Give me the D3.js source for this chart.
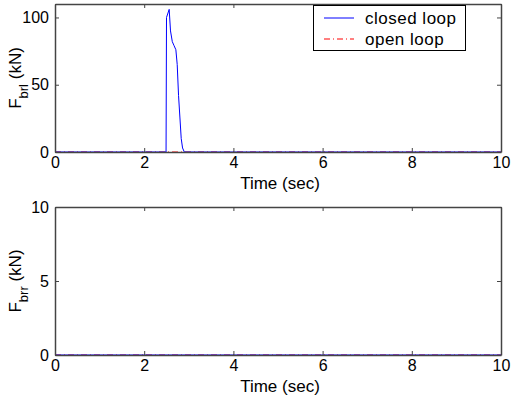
<!DOCTYPE html>
<html>
<head>
<meta charset="utf-8">
<script src="https://cdn.jsdelivr.net/npm/d3@7"></script>
<style>
  body { margin: 0; background: #fff; }
  svg { display: block; font-family: "Liberation Sans", Arial, sans-serif; }
</style>
</head>
<body>
<script>
// time axis (sec)
const xTicks = [0, 2, 4, 6, 8, 10]

// left brake force, closed loop
const closedT = [0, 2.49, 2.50, 2.56, 2.59, 2.63, 2.67, 2.71, 2.74, 2.77, 2.80, 2.83, 2.86, 2.90, 10]
const closedF = [0, 0, 100, 106, 90, 82, 79, 76, 65, 42, 26, 10, 3, 0, 0]
// left brake force, open loop
const openT = [0, 10]
const openF = [0, 0]

// right brake force (both zero)
const closedRT = [0, 10]
const closedRF = [0, 0]
const openRT = [0, 10]
const openRF = [0, 0]

const W = 514, H = 397
const svg = d3.select('body').append('svg').attr('width', W).attr('height', H)

function panel(opt) {
  const x = d3.scaleLinear().domain([0, 10]).range([55, 501])
  const y = d3.scaleLinear().domain(opt.yDomain).range([opt.bottom, opt.top])
  const g = svg.append('g')
  const axisColor = '#444'

  const line = d3.line().x(d => x(d[0])).y(d => y(d[1]))

  // open loop (red dash-dot) then closed loop (blue)
  g.append('path')
    .attr('d', line(d3.zip(opt.openT, opt.openF)))
    .attr('fill', 'none').attr('stroke', '#ff0000').attr('stroke-width', 1)
    .attr('stroke-dasharray', '6,3,1,3')
  g.append('path')
    .attr('d', line(d3.zip(opt.closedT, opt.closedF)))
    .attr('fill', 'none').attr('stroke', '#0000ff').attr('stroke-width', 1)

  // box with inward ticks on all four sides
  const axes = [
    d3.axisBottom(x).tickValues(xTicks).tickSizeInner(-4).tickSizeOuter(0).tickPadding(5),
    d3.axisTop(x).tickValues(xTicks).tickSizeInner(-4).tickSizeOuter(0).tickFormat(''),
    d3.axisLeft(y).tickValues(opt.yTicks).tickSizeInner(-4).tickSizeOuter(0).tickPadding(6),
    d3.axisRight(y).tickValues(opt.yTicks).tickSizeInner(-4).tickSizeOuter(0).tickFormat('')
  ]
  const trans = [
    `translate(0,${opt.bottom})`, `translate(0,${opt.top})`,
    'translate(55,0)', 'translate(501,0)'
  ]
  axes.forEach((a, i) => {
    const ag = g.append('g').attr('transform', trans[i]).call(a)
    ag.select('.domain').attr('stroke', axisColor).attr('stroke-width', 1.5)
    ag.selectAll('.tick line').attr('stroke', axisColor)
    ag.selectAll('.tick text').attr('fill', '#000').style('font-size', '16px')
  })

  g.append('text')
    .attr('x', 280).attr('y', opt.bottom + 37)
    .attr('text-anchor', 'middle')
    .style('font-size', '17px')
    .text('Time (sec)')

  const yl = g.append('text')
    .attr('transform', `translate(21,${(opt.top + opt.bottom) / 2}) rotate(-90)`)
    .attr('text-anchor', 'middle')
    .style('font-size', '17px')
  yl.append('tspan').text('F')
  yl.append('tspan').attr('dy', 7).style('font-size', '13px').text(opt.sub)
  yl.append('tspan').attr('dy', -7).text(' (kN)')
  return g
}

panel({
  top: 4, bottom: 152, yDomain: [0, 110], yTicks: [0, 50, 100], sub: 'brl',
  closedT, closedF, openT, openF
})
panel({
  top: 207, bottom: 355, yDomain: [0, 10], yTicks: [0, 5, 10], sub: 'brr',
  closedT: closedRT, closedF: closedRF, openT: openRT, openF: openRF
})

// legend
const leg = svg.append('g')
leg.append('rect')
  .attr('x', 313.5).attr('y', 5.5).attr('width', 152).attr('height', 45)
  .attr('fill', '#fff').attr('stroke', '#000')
const legendItems = [
  { label: 'closed loop', color: '#0000ff', dash: null, y: 18 },
  { label: 'open loop', color: '#ff0000', dash: '6,3,1,3', y: 39 }
]
legendItems.forEach(d => {
  leg.append('line')
    .attr('x1', 324).attr('x2', 354).attr('y1', d.y).attr('y2', d.y)
    .attr('stroke', d.color).attr('stroke-dasharray', d.dash)
  leg.append('text')
    .attr('x', 365).attr('y', d.y + 6)
    .style('font-size', '17px')
    .style('letter-spacing', '0.5px')
    .text(d.label)
})
</script>
</body>
</html>
